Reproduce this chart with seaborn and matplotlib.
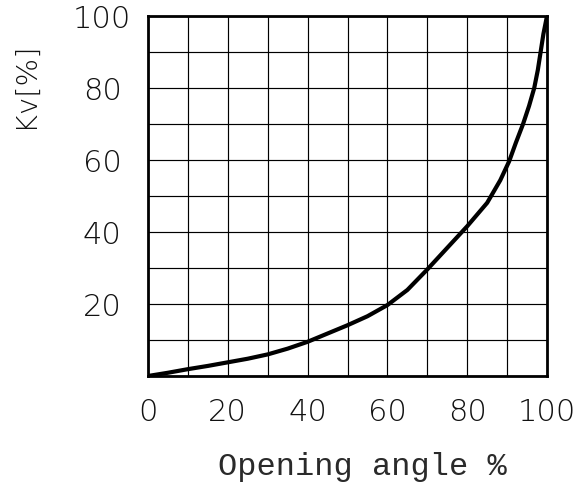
import matplotlib
matplotlib.use("Agg")
import matplotlib.pyplot as plt
import seaborn as sns
import pandas as pd

opening = [0, 5, 10, 15, 20, 25, 30, 35, 40, 45, 50, 55, 60, 65, 70, 75, 80, 85,
           88.3, 90.5, 92.2, 94, 95.5, 96.8, 97.7, 98.4, 99.1, 100]
kv = [0, 0.9, 1.9, 2.8, 3.8, 4.8, 6.0, 7.6, 9.5, 11.8, 14.1, 16.6, 19.7, 23.9, 29.6, 35.6, 41.6, 48.1,
      54.4, 59.6, 64.8, 70, 75, 80, 85, 90, 95, 100]
x_ticklabels = ["0", "20", "40", "60", "80", "100"]
y_ticklabels = ["20", "40", "60", "80", "100"]

sns.set_theme(style="white")
plt.rcParams['font.family'] = ['DejaVu Sans']

df = pd.DataFrame({"opening": opening, "kv": kv})

fig = plt.figure(figsize=(5.76, 4.90), dpi=100)
ax = fig.add_axes([148/576, 1-376/490, (547-148)/576, (376-16)/490])

sns.lineplot(data=df, x="opening", y="kv", ax=ax, color="black", linewidth=3.0,
             zorder=5, solid_joinstyle="round", solid_capstyle="round")

ax.set_xlim(0, 100)
ax.set_ylim(0, 100)
ax.set_xticks(range(0, 101, 10))
ax.set_yticks(range(0, 101, 10))
xl = [x_ticklabels[i // 2] if i % 2 == 0 else "" for i in range(11)]
yl = ["" if (i % 2 == 1 or i == 0) else y_ticklabels[i // 2 - 1] for i in range(11)]
ax.set_xticklabels(xl, fontsize=22, fontweight="light", color="#111111")
ax.set_yticklabels(yl, fontsize=22, fontweight="light", color="#111111", ha="center")
ax.tick_params(axis="x", length=0, pad=16)
ax.tick_params(axis="y", length=0, pad=33)
ax.grid(True, color="black", linewidth=0.85)
for s in ax.spines.values():
    s.set_color("black")
    s.set_linewidth(2.0)
    s.set_visible(True)
ax.set_xlabel("")
ax.set_ylabel("")

fig.text(25/576, 1-85/490, "Kv[%]", rotation=90, ha="center", va="center",
         fontsize=21, fontweight="light", color="#111111")
fig.text(362/576, 1-467/490, "Opening angle %", ha="center", va="center",
         fontsize=23, family="Liberation Mono", color="#2a2a2a")

fig.savefig("out.png", dpi=100, facecolor="white")
